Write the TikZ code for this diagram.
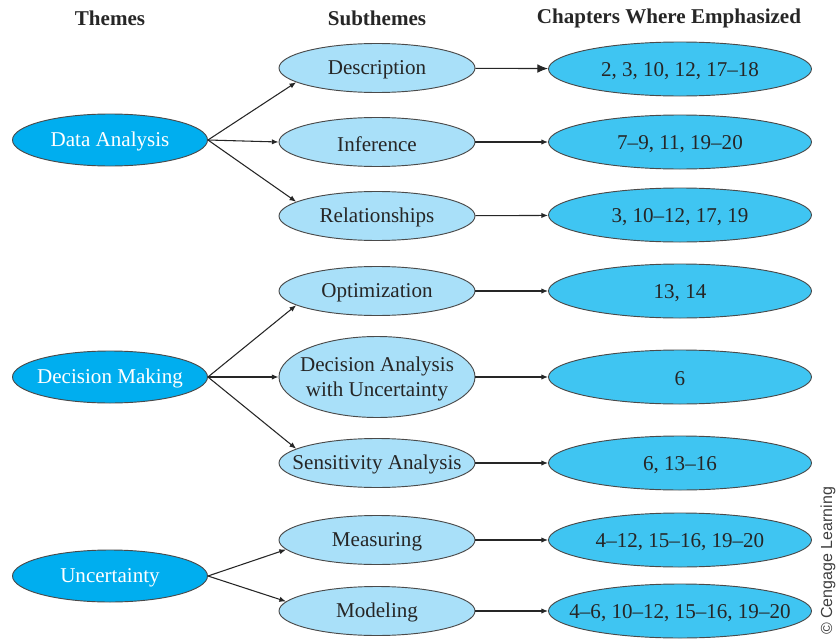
\documentclass[tikz,border=0pt]{standalone}
\usepackage{fontspec}
\setmainfont{Liberation Serif}
\newfontfamily\credfont{Liberation Sans}
\usepackage{xcolor}
\usepackage{tikz}
\usetikzlibrary{arrows.meta,shapes.geometric}
\definecolor{themeblue}{HTML}{00AEEF}
\definecolor{subblue}{HTML}{A9E0F9}
\definecolor{chapblue}{HTML}{3FC5F2}
\definecolor{rim}{HTML}{4A4A4A}
\tikzset{
  theme/.style={ellipse, draw=rim, fill=themeblue, line width=0.7pt,
    minimum width=146.25pt, minimum height=39pt, inner sep=0pt},
  sub/.style={ellipse, draw=rim, fill=subblue, line width=0.7pt,
    minimum width=147pt, minimum height=36.75pt, inner sep=0pt},
  chap/.style={ellipse, draw=rim, fill=chapblue, line width=0.7pt,
    minimum width=197.25pt, minimum height=40.5pt, inner sep=0pt},
  txt/.style={font=\fontsize{15.8}{18.8}\selectfont, align=center, inner sep=0pt,
    text=black!85, yshift=-1.3pt},
  head/.style={font=\fontsize{15.8}{18.8}\selectfont\bfseries, text=black!85, inner sep=0pt},
  arr/.style={-{Latex[length=5pt,width=4pt]}, line width=0.8pt, black!85},
  bigarr/.style={-{Latex[length=8pt,width=6.5pt]}, line width=0.8pt, black!85},
}

\begin{document}
\begin{tikzpicture}[x=0.75pt, y=-0.75pt]
  \useasboundingbox (0,0) rectangle (836,639);
  % ── column heads ──────────────────────────────────────────────────
  \node[head] (hthm)  at (110,18) {Themes};
  \node[head] (hsub)  at (377,18) {Subthemes};
  \node[head] (hchap) at (669,18) {Chapters Where Emphasized};
  % ── themes ────────────────────────────────────────────────────────
  \node[theme, label={[txt, text=white]center:Data Analysis}]   (da)  at (110,140) {};
  \node[theme, label={[txt, text=white]center:Decision Making}] (dm)  at (110,377) {};
  \node[theme, label={[txt, text=white]center:Uncertainty}]     (unc) at (110,576) {};
  % ── subthemes ─────────────────────────────────────────────────────
  \node[sub, label={[txt]center:Description}]   (desc)  at (377,68)  {};
  \node[sub, label={[txt]center:Inference}]     (infer) at (377,142) {};
  \node[sub, label={[txt]center:Relationships}] (rel)   at (377,216) {};
  \node[sub, label={[txt]center:Optimization}]  (opt)   at (377,291) {};
  \node[sub, minimum height=60.75pt,
        label={[txt]center:Decision Analysis\\with Uncertainty}] (dau) at (377,377) {};
  \node[sub, label={[txt]center:Sensitivity Analysis}] (sens) at (377,463) {};
  \node[sub, label={[txt]center:Measuring}]     (meas)  at (377,540) {};
  \node[sub, label={[txt]center:Modeling}]      (model) at (377,611) {};
  % ── chapters ──────────────────────────────────────────────────────
  \node[chap, label={[txt]center:2, 3, 10, 12, 17--18}]   (cdesc)  at (680,69)  {};
  \node[chap, label={[txt]center:7--9, 11, 19--20}]       (cinfer) at (680,142) {};
  \node[chap, label={[txt]center:3, 10--12, 17, 19}]      (crel)   at (680,215) {};
  \node[chap, label={[txt]center:13, 14}]                 (copt)   at (680,291) {};
  \node[chap, label={[txt]center:6}]                      (cdau)   at (680,377) {};
  \node[chap, label={[txt]center:6, 13--16}]              (csens)  at (680,463) {};
  \node[chap, label={[txt]center:4--12, 15--16, 19--20}]  (cmeas)  at (680,540) {};
  \node[chap, label={[txt]center:4--6, 10--12, 15--16, 19--20}] (cmodel) at (680,611) {};
  % ── theme to subtheme ─────────────────────────────────────────────
  \draw[arr] (da.east) -- (desc.190);
  \draw[arr] (da.east) -- (infer.west);
  \draw[arr] (da.east) -- (rel.170);
  \draw[arr] (dm.east) -- (opt.190);
  \draw[arr] (dm.east) -- (dau.west);
  \draw[arr] (dm.east) -- (sens.170);
  \draw[arr] (unc.east) -- (meas.186);
  \draw[arr] (unc.east) -- (model.174);
  % ── subtheme to chapters ──────────────────────────────────────────
  \draw[bigarr] (desc) -- (cdesc);
  \draw[arr] (infer) -- (cinfer);
  \draw[arr] (rel) -- (crel);
  \draw[arr] (opt) -- (copt);
  \draw[arr] (dau) -- (cdau);
  \draw[arr] (sens) -- (csens);
  \draw[arr] (meas) -- (cmeas);
  \draw[arr] (model) -- (cmodel);
  % credit line
  \node[font=\credfont\fontsize{12}{14}\selectfont, text=black!75, rotate=90, inner sep=0pt]
    (cred) at (828,561) {© Cengage Learning};
\end{tikzpicture}
\end{document}
